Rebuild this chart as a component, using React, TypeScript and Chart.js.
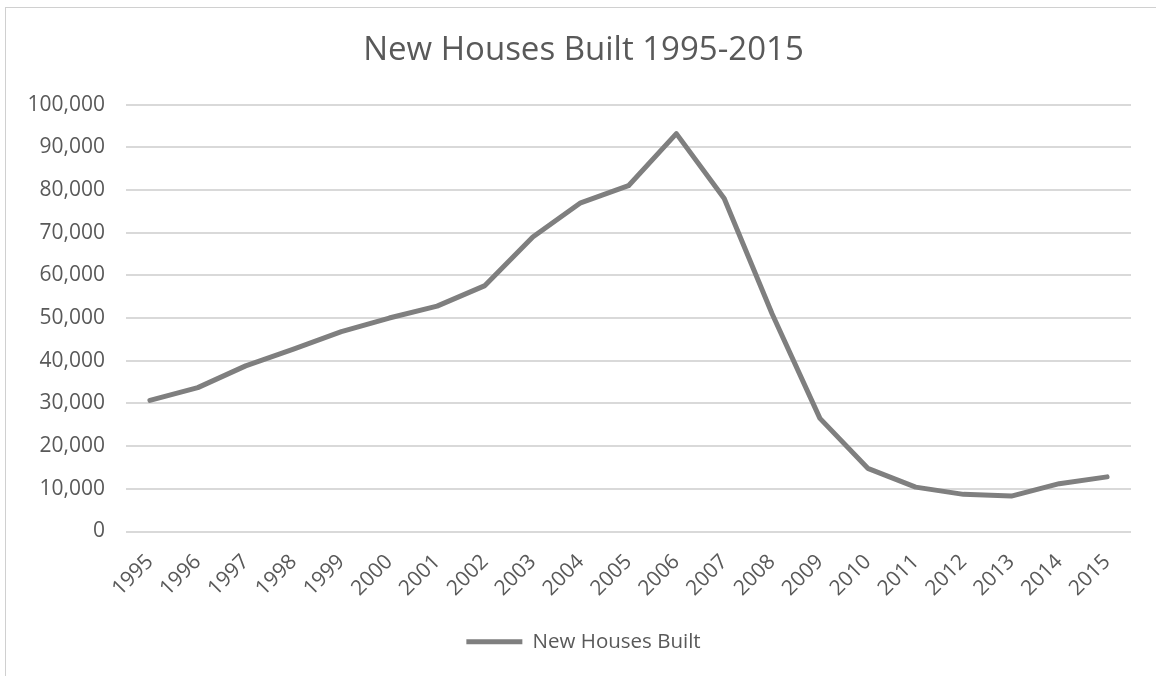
import React, { useEffect, useRef } from "react";
import { Chart, registerables } from "chart.js";

Chart.register(...registerables);

const years = [
  "1995", "1996", "1997", "1998", "1999", "2000", "2001", "2002", "2003", "2004", "2005",
  "2006", "2007", "2008", "2009", "2010", "2011", "2012", "2013", "2014", "2015",
];
const newHousesBuilt = [
  30700, 33700, 38800, 42700, 46800, 50000, 52800, 57600, 69000, 77000, 81000,
  93200, 78000, 51000, 26500, 14800, 10400, 8700, 8300, 11200, 12800,
];
const seriesName = "New Houses Built";
const chartTitle = "New Houses Built 1995-2015";

const FONT = "'Open Sans', sans-serif";
const TEXT = "#595959";
const LINE = "#7f7f7f";
const GRID = "#d9d9d9";

const shiftHeaderFooter = {
  id: "shiftHeaderFooter",
  afterLayout(chart: any) {
    const dx = 13;
    for (const box of [chart.titleBlock, chart.legend]) {
      if (box) {
        box.left += dx;
        box.right += dx;
      }
    }
  },
};

export default function App() {
  const ref = useRef<HTMLCanvasElement | null>(null);

  useEffect(() => {
    if (!ref.current) return;
    const chart = new Chart(ref.current, {
      type: "line",
      data: {
        labels: years,
        datasets: [
          {
            label: seriesName,
            data: newHousesBuilt,
            borderColor: LINE,
            backgroundColor: LINE,
            borderWidth: 5,
            pointRadius: 0,
            tension: 0,
            borderJoinStyle: "round",
            borderCapStyle: "round",
          },
        ],
      },
      plugins: [shiftHeaderFooter],
      options: {
        responsive: false,
        animation: false,
        layout: { padding: { left: 10, right: 25, top: 0, bottom: 14 } },
        plugins: {
          title: {
            display: true,
            text: chartTitle,
            color: TEXT,
            font: { family: FONT, size: 33, weight: "normal" },
            padding: { top: 31, bottom: 34 },
          },
          legend: {
            position: "bottom",
            labels: {
              color: TEXT,
              font: { family: FONT, size: 20.5 },
              boxWidth: 56,
              boxHeight: 5,
              padding: 10,
              generateLabels: (c: any) =>
                Chart.defaults.plugins.legend.labels.generateLabels(c).map((l: any) => ({
                  ...l,
                  lineWidth: 0,
                  fillStyle: LINE,
                  strokeStyle: LINE,
                })),
            },
          },
          tooltip: { enabled: false },
        },
        scales: {
          x: {
            offset: true,
            grid: { display: false, drawTicks: false },
            border: { display: false },
            ticks: {
              color: TEXT,
              font: { family: FONT, size: 21 },
              minRotation: 45,
              maxRotation: 45,
              autoSkip: false,
              padding: 18,
            },
            afterFit: (s: any) => {
              s.height = 90;
            },
          },
          y: {
            min: 0,
            max: 100000,
            grid: { color: GRID, lineWidth: 2, drawTicks: false },
            border: { display: false },
            ticks: {
              stepSize: 10000,
              color: TEXT,
              font: { family: FONT, size: 21 },
              padding: 21,
              callback: (v: any) => Number(v).toLocaleString("en-US"),
            },
            afterFit: (s: any) => {
              s.width = 116;
            },
          },
        },
      },
    });
    return () => chart.destroy();
  }, []);

  return (
    <div
      style={{
        position: "fixed",
        left: 0,
        top: 0,
        width: 1156,
        height: 676,
        background: "#ffffff",
        overflow: "hidden",
      }}
    >
      <div
        style={{
          position: "absolute",
          left: 5,
          top: 7,
          width: 1200,
          height: 720,
          border: "1.5px solid #d0d0d0",
          boxSizing: "border-box",
        }}
      />
      <canvas
        ref={ref}
        width={1156}
        height={676}
        style={{ position: "absolute", left: 0, top: 0 }}
      />
    </div>
  );
}
